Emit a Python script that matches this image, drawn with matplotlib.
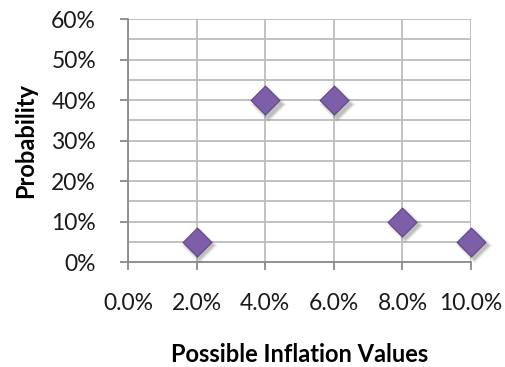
import matplotlib
matplotlib.use("Agg")
import matplotlib.pyplot as plt
from matplotlib.ticker import FuncFormatter, MultipleLocator

# Data
inflation = [0.02, 0.04, 0.06, 0.08, 0.10]
probability = [0.05, 0.40, 0.40, 0.10, 0.05]

x_ticks = [0.0, 0.02, 0.04, 0.06, 0.08, 0.10]
y_ticks = [0.0, 0.1, 0.2, 0.3, 0.4, 0.5, 0.6]

plt.rcParams["font.family"] = ["Lato", "DejaVu Sans"]

fig = plt.figure(figsize=(5.06, 3.67), dpi=100)
ax = fig.add_axes([0.253, 0.286, 0.678, 0.662])

ax.set_xlim(0, 0.10)
ax.set_ylim(0, 0.60)
ax.set_xticks(x_ticks)
ax.set_yticks(y_ticks)
ax.yaxis.set_minor_locator(MultipleLocator(0.05))
ax.xaxis.set_major_formatter(FuncFormatter(lambda v, p: "%.1f%%" % (v * 100)))
ax.yaxis.set_major_formatter(FuncFormatter(lambda v, p: "%d%%" % round(v * 100)))

ax.grid(True, which="major", color="#bcbcbc", lw=1.3)
ax.grid(True, which="minor", axis="y", color="#bcbcbc", lw=1.3)
ax.set_axisbelow(True)

for side in ["top", "right"]:
    ax.spines[side].set_visible(False)
for side in ["left", "bottom"]:
    ax.spines[side].set_color("#8a8a8a")
    ax.spines[side].set_linewidth(1.3)

ax.tick_params(axis="both", which="major", direction="out", color="#8a8a8a",
               width=1.3, length=6, labelsize=16.5, labelcolor="#1a1a1a")
ax.tick_params(axis="x", pad=16)
ax.tick_params(axis="y", pad=17)
ax.tick_params(which="minor", length=0)

# blurry drop shadow, then the diamonds
for s, a in [(340, 0.08), (280, 0.12), (230, 0.18)]:
    ax.scatter([v + 0.0008 for v in inflation], [p - 0.009 for p in probability],
               marker="D", s=s, color="#444444", alpha=a, lw=0, zorder=3,
               clip_on=False)
ax.scatter(inflation, probability, marker="D", s=215, color="#7d5ea8",
           edgecolor="#5f4589", lw=0.8, zorder=4, clip_on=False)

ax.set_xlabel("Possible Inflation Values", fontsize=17, fontweight="bold",
              labelpad=21)
ax.set_ylabel("Probability", fontsize=17, fontweight="bold", labelpad=10)

fig.savefig("out.png", dpi=100)
